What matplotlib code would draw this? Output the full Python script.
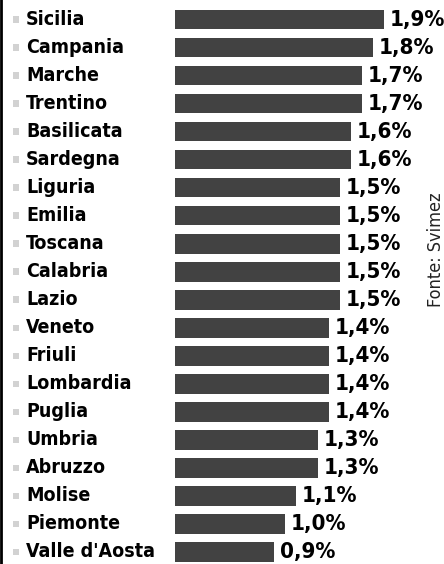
import matplotlib.pyplot as plt

regioni = ["Sicilia", "Campania", "Marche", "Trentino", "Basilicata", "Sardegna",
           "Liguria", "Emilia", "Toscana", "Calabria", "Lazio", "Veneto", "Friuli",
           "Lombardia", "Puglia", "Umbria", "Abruzzo", "Molise", "Piemonte",
           "Valle d'Aosta"]
valori = [1.9, 1.8, 1.7, 1.7, 1.6, 1.6, 1.5, 1.5, 1.5, 1.5, 1.5, 1.4, 1.4,
          1.4, 1.4, 1.3, 1.3, 1.1, 1.0, 0.9]
etichette = [("%.1f%%" % v).replace(".", ",") for v in valori]
fonte = "Fonte: Svimez"

plt.rcParams['font.family'] = ['DejaVu Sans']
plt.rcParams['font.stretch'] = 'condensed'

fig = plt.figure(figsize=(4.44, 5.64), dpi=100)
ax = fig.add_axes([0, 0, 1, 1])

ypos = list(range(len(regioni)))
ax.barh(ypos, valori, height=0.7, color="#424242", edgecolor="none")

for i, (nome, v, lab) in enumerate(zip(regioni, valori, etichette)):
    ax.text(-1.355, i, nome, ha="left", va="center", fontsize=14,
            fontweight="bold", color="black")
    ax.text(v + 0.05, i, lab, ha="left", va="center", fontsize=16,
            fontweight="bold", color="black")

# quadratini grigi a sinistra
ax.scatter([-1.445] * len(regioni), ypos, marker="s", s=22, color="#d2d2d2",
           edgecolor="none")

ax.axvline(-1.582, color="black", lw=2)

ax.text(2.368, 8.22, fonte, rotation=90, ha="center", va="center",
        fontsize=13, color="#222222")

ax.set_xlim(-1.591, 2.445)
ax.set_ylim(19.43, -0.696)
ax.axis("off")

fig.savefig("out.png", dpi=100)
